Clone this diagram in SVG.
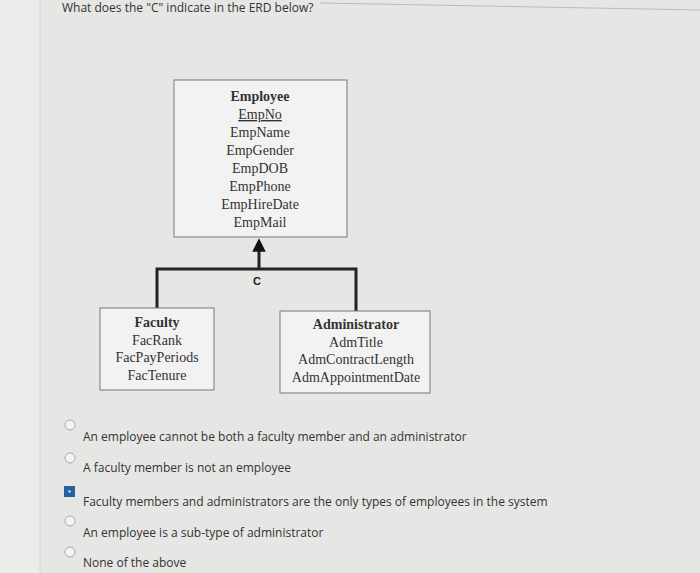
<svg xmlns="http://www.w3.org/2000/svg" width="700" height="573" viewBox="0 0 700 573">
<defs>
<style>
.box{fill:#f2f2f2;stroke:#777;stroke-width:1}
.erd{font-family:"Liberation Serif",serif;font-size:14px;fill:#333;text-anchor:middle}
.b{font-weight:bold}
.ui{font-family:"Open Sans",sans-serif;font-size:12px;fill:#333}
.rad{fill:#f4f4f4;stroke:#aaa;stroke-width:1}
.ln{stroke:#222;stroke-width:3;fill:none}
</style>
<marker id="ah" viewBox="0 0 10 10" refX="2" refY="5" markerWidth="4.5" markerHeight="4.5" orient="auto"><path d="M0,0L10,5L0,10z" fill="#111"/></marker>
</defs>
<rect width="700" height="573" fill="#e6e6e4"/>
<rect width="40" height="573" fill="#ececea"/>
<line x1="40" y1="0" x2="40" y2="573" stroke="#d4d4d4"/>
<line x1="320" y1="3" x2="700" y2="10" stroke="#bbb"/>
<text class="ui" x="62" y="12" font-size="13">What does the "C" indicate in the ERD below?</text>
<g id="connectors">
<path class="ln" d="M157,308V269H356V311"/>
<path class="ln" d="M259,269V249" marker-end="url(#ah)"/>
<text x="257" y="285" font-family="Liberation Sans,sans-serif" font-size="11" font-weight="bold" fill="#222" text-anchor="middle">C</text>
</g>
<g id="employee">
<rect class="box" x="174" y="80" width="173" height="157"/>
<text class="erd b" x="260" y="101">Employee</text>
<text class="erd" x="260" y="119" text-decoration="underline">EmpNo</text>
<text class="erd" x="260" y="137">EmpName</text>
<text class="erd" x="260" y="155">EmpGender</text>
<text class="erd" x="260" y="173">EmpDOB</text>
<text class="erd" x="260" y="191">EmpPhone</text>
<text class="erd" x="260" y="209">EmpHireDate</text>
<text class="erd" x="260" y="227">EmpMail</text>
</g>
<g id="faculty">
<rect class="box" x="100" y="308" width="114" height="82"/>
<text class="erd b" x="157" y="327">Faculty</text>
<text class="erd" x="157" y="345">FacRank</text>
<text class="erd" x="157" y="362">FacPayPeriods</text>
<text class="erd" x="157" y="380">FacTenure</text>
</g>
<g id="administrator">
<rect class="box" x="280" y="311" width="150" height="82"/>
<text class="erd b" x="356" y="329">Administrator</text>
<text class="erd" x="356" y="347">AdmTitle</text>
<text class="erd" x="356" y="364">AdmContractLength</text>
<text class="erd" x="356" y="382">AdmAppointmentDate</text>
</g>
<g id="options">
<circle class="rad" cx="70" cy="425" r="5"/>
<text class="ui" x="83" y="441">An employee cannot be both a faculty member and an administrator</text>
<circle class="rad" cx="70" cy="458" r="5"/>
<text class="ui" x="83" y="472">A faculty member is not an employee</text>
<rect x="64" y="486" width="11" height="11" fill="#2a5fa0"/>
<rect x="68.5" y="490.5" width="2" height="2" fill="#fff"/>
<text class="ui" x="83" y="506">Faculty members and administrators are the only types of employees in the system</text>
<circle class="rad" cx="70" cy="521" r="5"/>
<text class="ui" x="83" y="537">An employee is a sub-type of administrator</text>
<circle class="rad" cx="70" cy="552" r="5"/>
<text class="ui" x="83" y="567">None of the above</text>
</g>
</svg>
